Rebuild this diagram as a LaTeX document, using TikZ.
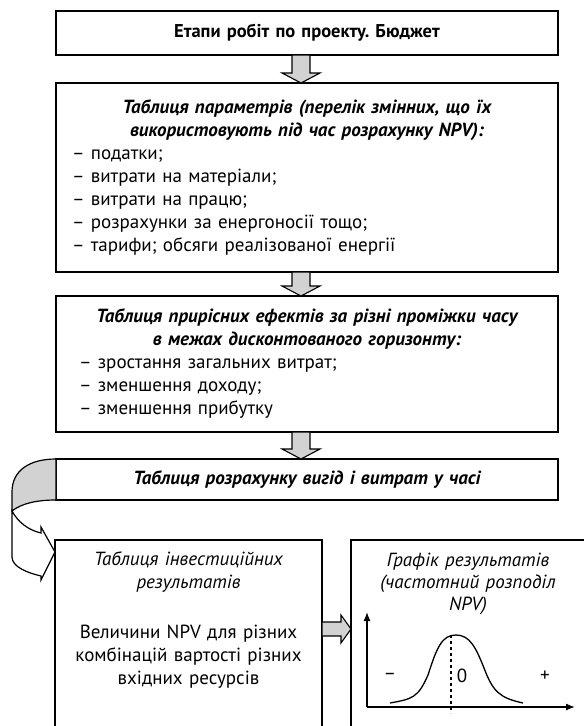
\documentclass[tikz,border=0pt]{standalone}
\usepackage{fontspec}
\setmainfont{PT Sans}
\usetikzlibrary{calc,arrows.meta}
\tikzset{
  stage/.style={draw, line width=1.3pt, fill=white, inner xsep=16pt, inner ysep=5pt, outer sep=0pt},
  blockarr/.style={draw, line width=1.1pt, fill=gray!35, line join=miter},
  axisarr/.style={line width=1.3pt, -{Latex[length=9pt,width=7pt]}},
}
% block arrow down: from #1 to #2 (x taken from #1)
\newcommand{\downblock}[2]{%
  \path[blockarr] let \p1=(#1), \p2=(#2) in
    (\x1-9pt,\y1) -- (\x1+9pt,\y1) -- (\x1+9pt,\y2+10pt) -- (\x1+19pt,\y2+10pt)
    -- (\x1,\y2) -- (\x1-19pt,\y2+10pt) -- (\x1-9pt,\y2+10pt) -- cycle;}
% block arrow right: from #1 to #2 (y taken from #1)
\newcommand{\rightblock}[2]{%
  \path[blockarr] let \p1=(#1), \p2=(#2) in
    (\x1,\y1+7pt) -- (\x2-10pt,\y1+7pt) -- (\x2-10pt,\y1+14pt) -- (\x2,\y1)
    -- (\x2-10pt,\y1-14pt) -- (\x2-10pt,\y1-7pt) -- (\x1,\y1-7pt) -- cycle;}
\frenchspacing
\begin{document}
\begin{tikzpicture}[x=1pt,y=-1pt,font=\fontsize{19}{23}\selectfont]
\useasboundingbox (0,0) rectangle (584,726);
\clip (0,0) rectangle (584,726);
\coordinate (arrx) at (301,0);
\coordinate (mid) at (0,629);

% stages
\node[stage, anchor=north west, text width=470pt, minimum height=44pt, align=center,
  font=\fontsize{18.5}{23}\selectfont\bfseries] (budget) at (56,11) {Етапи робіт по проекту. Бюджет};

\node[stage, anchor=north west, text width=470pt, minimum height=189pt] (params) at (56,83) {%
  {\centering\bfseries\itshape Таблиця параметрів (перелік змінних, що їх\\
   використовують під час розрахунку NPV):\par}
  – податки;\\
  – витрати на матеріали;\\
  – витрати на працю;\\
  – розрахунки за енергоносії тощо;\\
  – тарифи; обсяги реалізованої енергії\par};

\node[stage, anchor=north west, text width=470pt, minimum height=136pt] (effects) at (56,296) {%
  {\centering\bfseries\itshape Таблиця прирісних ефектів за різні проміжки часу\\
   в межах дисконтованого горизонту:\par}
  {\leftskip=7pt
  – зростання загальних витрат;\\
  – зменшення доходу;\\
  – зменшення прибутку\par}};

\node[stage, anchor=north west, text width=470pt, minimum height=41pt, align=center,
  font=\fontsize{19}{23}\selectfont\bfseries\itshape] (calc) at (56,459) {Таблиця розрахунку вигід і витрат у часі};

\node[stage, anchor=north west, text width=257pt, inner xsep=5pt, inner ysep=12pt, align=center,
  font=\fontsize{19}{23}\selectfont] (invest) at (55,540) {%
  {\itshape Таблиця інвестиційних\\ результатів\par}
  \vspace{27pt}
  Величини NPV для різних\\ комбінацій вартості різних\\ вхідних ресурсів\par
  \vspace*{90pt}\null};

\node[stage, anchor=north west, text width=224pt, inner xsep=5pt, inner ysep=13pt, align=center,
  font=\fontsize{19}{22}\selectfont\itshape] (graph) at (351,540) {%
  Графік результатів\\ (частотний розподіл\\ NPV)\par
  \vspace*{140pt}\null};

% block arrows
\downblock{budget.south -| arrx}{params.north -| arrx}
\downblock{params.south -| arrx}{effects.north -| arrx}
\downblock{effects.south -| arrx}{calc.north -| arrx}
\rightblock{invest.east |- mid}{graph.west |- mid}

% curved arrow, back side
\draw[fill=gray!35, line width=1.2pt] (calc.north west) .. controls (30,459) and (12,470) .. (12,492)
  -- (12,511) .. controls (22,503) and (38,500) .. (calc.south west) -- cycle;
% curved arrow, front side
\draw[fill=white, line width=1.2pt, line join=miter] (12,511) -- (12,557)
  .. controls (12,567) and (28,573) .. (41,576) -- (41,580) -- (invest.west |- 0,552)
  -- (41,527) -- (41,533) .. controls (28,530) and (18,522) .. (12,511) -- cycle;

% frequency plot
\coordinate (origin) at (367,707);
\draw[axisarr] (origin) -- (367,612);
\draw[axisarr] (origin) -- (575,707);
\draw[line width=1.3pt] (390,703) .. controls (412,699) and (418,698) .. (428,675)
  .. controls (437,647) and (442,635) .. (456,635)
  .. controls (470,635) and (476,648) .. (484,668)
  .. controls (493,692) and (500,698) .. (523,703);
\draw[line width=1.3pt, dashed] (451,635) -- (451,713);
\foreach \x/\s [count=\i] in {390/{–},462/0,545/+}
  \node (lab\i) at (\x,676) {\s};
\end{tikzpicture}
\end{document}
